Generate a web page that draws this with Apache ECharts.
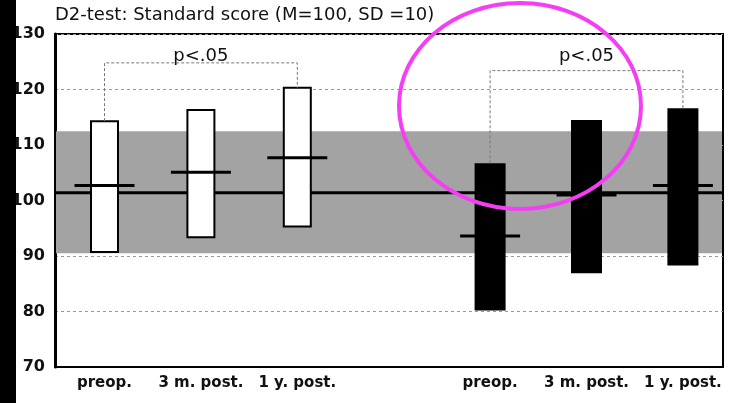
<!DOCTYPE html>
<html><head><meta charset="utf-8">
<script src="https://cdn.jsdelivr.net/npm/echarts@6/dist/echarts.min.js"></script>
<style>html,body{margin:0;padding:0;background:#fff}#c{width:731px;height:403px}</style>
</head><body><div id="c"></div>
<script>
// ---- data ----
const titleText = 'D2-test: Standard score (M=100, SD =10)';
const categories = ['preop.', '3 m. post.', '1 y. post.', 'preop.', '3 m. post.', '1 y. post.'];
const positions = [0, 1, 2, 4, 5, 6];
const groupIndex = [0, 0, 0, 1, 1, 1];
const rangeHigh = [114.3, 116.3, 120.3, 106.7, 114.5, 116.6];
const rangeLow = [90.7, 93.4, 95.3, 80.2, 86.9, 88.3];
const means = [102.7, 105.1, 107.7, 93.6, 101.0, 102.7];
const normLow = 90.5, normHigh = 112.5, normMean = 101.4;
const yMin = 70, yMax = 130, yStep = 10;
const bracketFrom = [0, 4];
const bracketTo = [2, 6];
const bracketLevel = [124.8, 123.4];
const bracketLabelLevel = [126.0, 126.0];
const bracketLabel = ['p<.05', 'p<.05'];

// ---- build ----
const FONT = 'DejaVu Sans';
const barData = positions.map((p, i) => [p, rangeHigh[i], rangeLow[i], groupIndex[i]]);
const meanData = positions.map((p, i) => [p, means[i], groupIndex[i]]);
const bracketData = bracketFrom.map((f, i) => {
  const ti = positions.indexOf(bracketTo[i]);
  const fi = positions.indexOf(f);
  return [f, bracketTo[i], bracketLevel[i], bracketLabelLevel[i], rangeHigh[fi], rangeHigh[ti]];
});

const chart = echarts.init(document.getElementById('c'), null, {renderer: 'canvas'});
chart.setOption({
  animation: false,
  backgroundColor: '#fff',
  title: {
    text: titleText, left: 55, top: 6, padding: 0,
    textStyle: {fontFamily: FONT, fontSize: 18, fontWeight: 'normal', color: '#111'}
  },
  grid: {left: 55, right: 8, top: 34, bottom: 36, show: true, borderColor: '#000', borderWidth: 2},
  xAxis: {
    type: 'value', min: -0.5135, max: 6.416,
    axisLine: {show: true, onZero: false, lineStyle: {color: '#000', width: 2}},
    axisTick: {show: false},
    splitLine: {show: false},
    axisLabel: {
      customValues: positions,
      formatter: (v) => { const k = positions.indexOf(Math.round(v)); return k >= 0 ? categories[k] : ''; },
      fontFamily: FONT, fontWeight: 'bold', fontSize: 15, color: '#111', margin: 9
    }
  },
  yAxis: {
    type: 'value', min: yMin, max: yMax, interval: yStep,
    axisLine: {show: true, onZero: false, lineStyle: {color: '#000', width: 3}},
    axisTick: {show: false},
    splitLine: {show: true, lineStyle: {color: '#999', type: [3, 3], width: 1}},
    axisLabel: {fontFamily: FONT, fontWeight: 'bold', fontSize: 16, color: '#111', margin: 10}
  },
  graphic: [
    {type: 'rect', shape: {x: 0, y: 0, width: 16, height: 403}, style: {fill: '#000'}, z: 100},
    {type: 'ellipse', shape: {cx: 520, cy: 106, rx: 121, ry: 103}, style: {fill: 'none', stroke: '#f43ef4', lineWidth: 4}, z: 101}
  ],
  series: [
    {
      type: 'custom', z: 1, silent: true,
      data: [[0, normHigh, normLow, normMean]],
      encode: {x: 0, y: [1, 2, 3]},
      renderItem: (params, api) => {
        const cs = params.coordSys;
        const top = api.coord([0, api.value(1)])[1];
        const bot = api.coord([0, api.value(2)])[1];
        const mid = api.coord([0, api.value(3)])[1];
        return {type: 'group', children: [
          {type: 'rect', shape: {x: cs.x + 1, y: top, width: cs.width - 2, height: bot - top}, style: {fill: '#a3a3a3'}},
          {type: 'line', shape: {x1: cs.x, y1: mid, x2: cs.x + cs.width, y2: mid}, style: {stroke: '#000', lineWidth: 3}}
        ]};
      }
    },
    {
      type: 'custom', z: 3, silent: true,
      data: barData,
      encode: {x: 0, y: [1, 2]},
      renderItem: (params, api) => {
        const x = api.value(0), g = api.value(3);
        const p1 = api.coord([x, api.value(1)]);
        const p2 = api.coord([x, api.value(2)]);
        const w = g === 0 ? 27 : 31;
        return {type: 'rect', shape: {x: p1[0] - w / 2, y: p1[1], width: w, height: p2[1] - p1[1]},
          style: g === 0 ? {fill: '#fff', stroke: '#000', lineWidth: 2} : {fill: '#000'}};
      }
    },
    {
      type: 'custom', z: 4, silent: true,
      data: meanData,
      encode: {x: 0, y: 1},
      renderItem: (params, api) => {
        const p = api.coord([api.value(0), api.value(1)]);
        return {type: 'line', shape: {x1: p[0] - 30, y1: p[1], x2: p[0] + 30, y2: p[1]}, style: {stroke: '#000', lineWidth: 3}};
      }
    },
    {
      type: 'custom', z: 5, silent: true,
      data: bracketData,
      encode: {x: [0, 1], y: [2, 3]},
      renderItem: (params, api) => {
        const f = api.value(0), t = api.value(1), lv = api.value(2), ll = api.value(3);
        const a = api.coord([f, api.value(4)]), b = api.coord([f, lv]);
        const c = api.coord([t, lv]), d = api.coord([t, api.value(5)]);
        const tp = api.coord([(f + t) / 2, ll]);
        return {type: 'group', children: [
          {type: 'polyline', shape: {points: [a, b, c, d]}, style: {fill: 'none', stroke: '#777', lineWidth: 1, lineDash: [3, 2]}},
          {type: 'text', x: tp[0], y: tp[1], style: {text: bracketLabel[params.dataIndex], fontFamily: FONT, fontSize: 18, fill: '#111', align: 'center', verticalAlign: 'middle'}}
        ]};
      }
    }
  ]
});
</script></body></html>
